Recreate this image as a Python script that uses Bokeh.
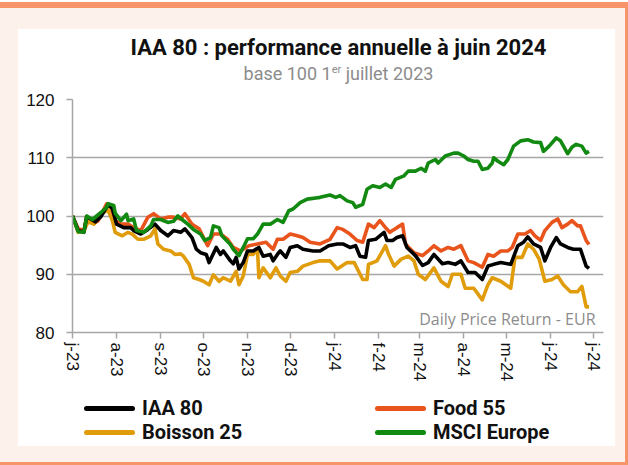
import numpy as np
import pandas as pd
from bokeh.plotting import figure
from bokeh.layouts import column
from bokeh.models import Range1d, FixedTicker, CustomJSTickFormatter, Label, Div
from bokeh.embed import file_html
from bokeh.resources import INLINE

# ---------------- data ----------------
BASE_DATE = "2023-07-01"
month_ticks = ["2023-07-01", "2023-08-01", "2023-09-01", "2023-10-01", "2023-11-01",
               "2023-12-01", "2024-01-01", "2024-02-01", "2024-03-01", "2024-04-01",
               "2024-05-01", "2024-06-01", "2024-07-01"]
y_ticks = [80, 90, 100, 110, 120]

title_text = "IAA 80 : performance annuelle à juin 2024"
note_text = "Daily Price Return - EUR"
series_names = ["IAA 80", "Food 55", "Boisson 25", "MSCI Europe"]

# days since 1 July 2023, index values (base 100)
iaa_days = [0, 4, 8, 10, 16, 20, 25, 28, 31, 36, 41, 43, 48, 53, 58, 62, 67, 71, 76, 79,
            84, 87, 90, 94, 96, 101, 104, 106, 111, 113, 115, 117, 120, 123, 127, 131, 134,
            139, 141, 144, 146, 150, 153, 158, 162, 169, 174, 180, 186, 190, 195, 199, 202,
            206, 208, 213, 219, 221, 225, 228, 232, 235, 241, 246, 250, 254, 260, 264, 269,
            273, 278, 283, 288, 292, 296, 301, 308, 313, 317, 320, 324, 329, 332, 336, 340,
            343, 348, 352, 357, 361, 363]
iaa_vals = [100, 97.5, 97.2, 99.9, 99.0, 99.9, 101.9, 101.3, 98.6, 98.0, 98.0, 97.5, 96.9,
            97.7, 98.6, 97.5, 96.6, 97.5, 97.2, 97.8, 96.3, 94.3, 93.7, 93.4, 92.0, 94.6, 93.4,
            94.0, 92.3, 91.8, 92.9, 90.9, 92.0, 94.0, 94.0, 94.6, 93.1, 93.4, 92.3, 93.4, 94.0,
            92.9, 94.6, 94.9, 94.3, 94.0, 94.0, 94.9, 95.2, 95.2, 94.6, 94.9, 93.1, 92.9, 95.8,
            96.0, 97.2, 95.8, 95.8, 96.3, 96.6, 94.6, 93.2, 91.5, 92.0, 93.4, 91.8, 92.0, 91.7,
            92.3, 90.3, 90.3, 89.1, 91.4, 91.7, 92.0, 91.7, 94.9, 95.5, 96.4, 95.2, 94.6, 92.3,
            94.6, 96.3, 95.2, 94.6, 94.3, 94.3, 91.4, 91.0]

food_days = [0, 4, 8, 10, 15, 18, 24, 27, 30, 34, 39, 43, 48, 53, 57, 62, 67, 71, 76, 79,
             84, 89, 95, 99, 104, 109, 113, 118, 124, 130, 136, 141, 144, 148, 153, 158, 162,
             167, 174, 181, 186, 190, 195, 200, 204, 208, 212, 216, 220, 223, 228, 232, 234,
             240, 246, 250, 254, 259, 264, 268, 273, 278, 282, 288, 292, 296, 301, 306, 309,
             313, 318, 322, 325, 329, 332, 337, 341, 344, 348, 351, 355, 357, 361, 363]
food_vals = [100, 97.8, 97.5, 99.9, 98.7, 99.2, 102.1, 101.5, 99.2, 98.6, 98.6, 98.0, 97.5,
             99.8, 100.4, 99.5, 99.8, 99.8, 99.5, 100.4, 98.6, 97.8, 94.9, 96.9, 96.9, 96.0,
             94.6, 94.0, 94.9, 95.2, 95.5, 94.3, 96.0, 96.0, 96.9, 96.6, 96.3, 95.5, 95.2, 96.0,
             98.0, 97.7, 96.9, 95.8, 95.5, 98.6, 98.0, 99.2, 98.0, 97.2, 98.0, 98.6, 95.2, 93.7,
             93.2, 94.0, 94.9, 94.0, 94.6, 94.3, 94.9, 92.3, 92.0, 91.2, 93.4, 93.1, 94.0, 94.0,
             94.6, 96.9, 96.9, 97.5, 96.6, 95.8, 97.5, 98.9, 99.5, 98.0, 98.6, 99.2, 98.3, 98.3,
             95.8, 95.1]

boisson_days = [0, 4, 8, 11, 15, 20, 25, 28, 30, 35, 39, 42, 46, 50, 55, 58, 60, 64, 69, 72,
                76, 78, 82, 85, 89, 92, 96, 99, 103, 106, 111, 115, 117, 120, 123, 127, 130,
                131, 134, 139, 143, 146, 150, 153, 158, 162, 169, 174, 181, 186, 193, 198, 204,
                207, 208, 214, 220, 222, 226, 231, 236, 240, 243, 248, 254, 259, 264, 267, 273,
                276, 282, 288, 292, 295, 301, 308, 311, 316, 320, 324, 328, 332, 337, 341, 345,
                350, 355, 358, 361, 363]
boisson_vals = [100, 97.2, 97.5, 99.0, 98.6, 100.4, 101.0, 99.2, 97.2, 96.6, 97.2, 96.9, 96.0,
                96.0, 96.6, 97.8, 95.2, 94.3, 94.0, 93.4, 93.5, 93.1, 91.7, 89.4, 89.1, 88.8,
                88.2, 89.9, 88.8, 89.4, 88.8, 90.5, 88.2, 89.7, 93.4, 93.4, 94.3, 89.4, 91.1,
                89.4, 91.1, 89.7, 88.8, 90.3, 90.5, 91.4, 92.0, 92.3, 92.3, 90.9, 92.0, 92.0,
                89.1, 89.1, 91.7, 92.3, 94.9, 93.5, 91.4, 92.6, 93.1, 92.3, 90.0, 89.1, 91.1,
                88.8, 87.9, 90.0, 90.0, 87.6, 87.6, 85.6, 88.2, 89.4, 88.8, 87.6, 92.9, 92.9,
                95.2, 94.3, 92.6, 88.8, 89.1, 89.7, 88.2, 87.0, 87.0, 87.9, 84.4, 84.4]

msci_days = [0, 4, 8, 10, 14, 20, 24, 25, 29, 30, 34, 38, 39, 43, 45, 50, 55, 57, 62, 67, 71,
             74, 77, 81, 85, 90, 93, 97, 99, 103, 105, 111, 113, 117, 120, 123, 127, 130, 134,
             139, 144, 148, 152, 155, 160, 165, 171, 174, 181, 185, 188, 193, 197, 199, 204,
             207, 211, 216, 220, 224, 227, 233, 236, 241, 245, 248, 250, 255, 257, 262, 268,
             271, 275, 278, 282, 285, 288, 292, 295, 296, 299, 303, 306, 310, 315, 320, 324,
             329, 331, 335, 340, 343, 348, 351, 354, 358, 361, 363]
msci_vals = [100, 97.3, 97.2, 100.0, 99.4, 100.6, 101.5, 102.1, 101.8, 100.5, 99.2, 100.3, 99.2,
             99.5, 97.5, 97.2, 98.3, 99.4, 99.4, 98.9, 99.1, 100.0, 99.4, 98.6, 97.7, 96.9, 95.8,
             96.3, 98.3, 98.0, 96.6, 95.1, 94.3, 93.2, 94.6, 96.1, 96.1, 96.9, 98.6, 98.6, 99.4,
             98.9, 100.9, 101.2, 102.3, 102.9, 103.1, 103.2, 103.6, 103.2, 103.5, 102.6, 102.3,
             101.5, 102.0, 104.6, 105.2, 104.9, 105.5, 104.9, 106.3, 106.9, 107.7, 107.7, 108.2,
             107.7, 109.1, 109.7, 109.1, 110.3, 110.8, 110.8, 110.3, 109.7, 109.4, 109.4, 108.0,
             108.2, 109.1, 110.0, 109.4, 108.8, 109.7, 112.0, 112.9, 113.1, 112.7, 112.6, 111.1,
             112.0, 113.4, 112.9, 110.7, 111.8, 112.3, 112.0, 110.8, 111.1]

# ---------------- style ----------------
CREAM = "#FDF1EB"
ORANGE_FRAME = "#F7956A"
GRID = "#A6A6A6"
C_IAA = "#000000"
C_FOOD = "#E8541C"
C_BOIS = "#E09C0A"
C_MSCI = "#128A12"
series_colors = [C_IAA, C_FOOD, C_BOIS, C_MSCI]

base = pd.Timestamp(BASE_DATE)


def to_dates(days):
    return base + pd.to_timedelta(np.asarray(days, dtype=float), unit="D")


def ms(ts):
    return ts.value / 1e6


x_start = ms(base)
x_end = ms(base + pd.Timedelta(days=373.2))

PANEL_W = 597

p = figure(width=PANEL_W, height=305, x_axis_type="datetime", title_location=None,
           x_range=Range1d(x_start, x_end), y_range=Range1d(y_ticks[0], y_ticks[-1]),
           output_backend="svg", toolbar_location=None, margin=0,
           min_border_left=54, min_border_right=12, min_border_top=12, min_border_bottom=60,
           border_fill_color="white", background_fill_color="white", outline_line_color=None)

# grids / axes
p.xgrid.visible = False
p.ygrid.grid_line_color = GRID
p.ygrid.grid_line_width = 1.5
p.ygrid.ticker = FixedTicker(ticks=y_ticks)

p.yaxis.ticker = FixedTicker(ticks=y_ticks)
p.xaxis.ticker = FixedTicker(ticks=[ms(pd.Timestamp(t)) for t in month_ticks])
p.xaxis.formatter = CustomJSTickFormatter(code="""
const d = new Date(tick);
const m = "jfmamjjasond"[d.getUTCMonth()];
return m + "-" + String(d.getUTCFullYear()).slice(2);
""")
for ax in (p.xaxis, p.yaxis):
    ax.axis_line_color = GRID
    ax.axis_line_width = 1.5
    ax.major_tick_line_color = GRID
    ax.major_tick_line_width = 1.5
    ax.major_tick_in = 0
    ax.major_tick_out = 6
    ax.minor_tick_line_color = None
    ax.major_label_text_font = "Liberation Sans"
    ax.major_label_text_color = "#111111"
p.yaxis.major_label_text_font_size = "17px"
p.xaxis.major_label_text_font_size = "17px"
p.yaxis.major_label_standoff = 12
p.xaxis.major_label_standoff = 4
p.xaxis.major_label_orientation = -np.pi / 2

# series
p.line(to_dates(food_days), food_vals, line_color=C_FOOD, line_width=3.6, line_join="round")
p.line(to_dates(boisson_days), boisson_vals, line_color=C_BOIS, line_width=3.6, line_join="round")
p.line(to_dates(iaa_days), iaa_vals, line_color=C_IAA, line_width=3.6, line_join="round")
p.line(to_dates(msci_days), msci_vals, line_color=C_MSCI, line_width=3.6, line_join="round")

# note inside plot area
p.add_layout(Label(x=523, y=14, x_units="screen", y_units="screen", text=note_text,
                   text_align="right", text_baseline="middle", text_font="Open Sans",
                   text_font_size="16px", text_color="#8C8C8C"))

# ---------------- title block ----------------
title_html = (
    '<div style="width:597px;padding-left:44px;box-sizing:border-box;text-align:center;">'
    '<div style="font-family:Roboto;font-weight:bold;font-size:22px;line-height:22px;'
    f'margin-top:8px;color:#111111;white-space:nowrap;">{title_text}</div>'
    '<div style="font-family:Roboto;font-size:18px;line-height:18px;margin-top:6px;'
    'color:#8C8C8C;white-space:nowrap;">base 100 1<span style="font-size:11px;'
    'position:relative;top:-7px;">er</span> juillet 2023</div></div>'
)
title_div = Div(text=title_html, width=PANEL_W, height=58, margin=0,
                styles={"background-color": "white"})

# ---------------- legend block (two columns) ----------------
legend_pos = [(66, 0), (357, 0), (66, 1), (357, 1)]  # column x, row index
leg_parts = ['<div style="position:relative;width:597px;height:54px;font-family:Roboto;'
             'font-weight:bold;font-size:20px;color:#111111;">']
for name, color, (lx, row) in zip(series_names, series_colors, legend_pos):
    cy = 16 + 24 * row
    leg_parts.append(f'<div style="position:absolute;left:{lx}px;top:{cy - 2.5}px;width:51px;'
                     f'height:5px;border-radius:2.5px;background:{color};"></div>')
    leg_parts.append(f'<div style="position:absolute;left:{lx + 58}px;top:{cy - 12}px;'
                     f'line-height:24px;white-space:nowrap;">{name}</div>')
leg_parts.append('</div>')
legend_div = Div(text="".join(leg_parts), width=PANEL_W, height=54, margin=0,
                 styles={"background-color": "white"})

inner = column(title_div, p, legend_div, spacing=0, margin=0,
               styles={"background-color": "white"})
page = column(inner, margin=0,
              styles={"background-color": CREAM,
                      "border-top": f"6px solid {ORANGE_FRAME}",
                      "border-right": f"3px solid {ORANGE_FRAME}",
                      "border-bottom": f"3px solid {ORANGE_FRAME}",
                      "margin-top": "2px",
                      "padding": "21px 10px 16px 18px"})

open("out.html", "w").write(file_html(page, INLINE))
